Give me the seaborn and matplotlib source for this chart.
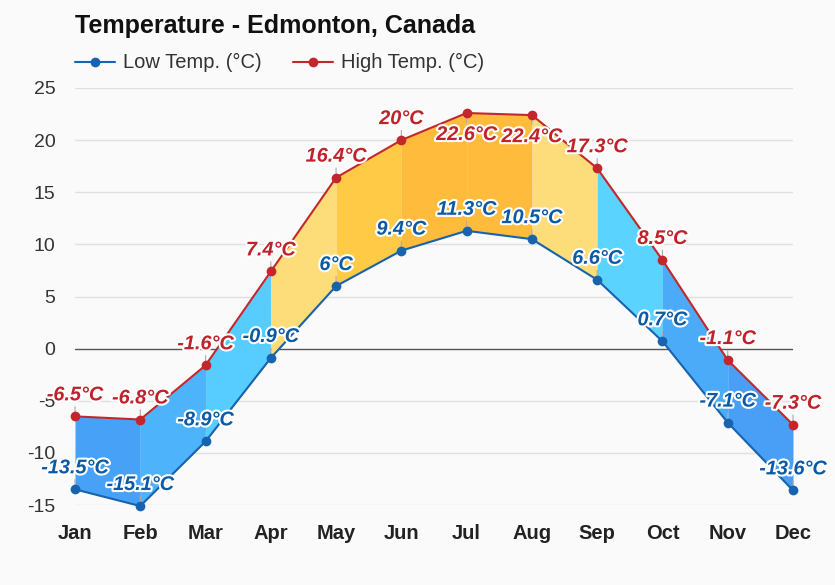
import numpy as np
import pandas as pd
import matplotlib
matplotlib.use("Agg")
import matplotlib.pyplot as plt
import matplotlib.patheffects as pe
from matplotlib.lines import Line2D
import seaborn as sns

months = ["Jan", "Feb", "Mar", "Apr", "May", "Jun", "Jul", "Aug", "Sep", "Oct", "Nov", "Dec"]
low_temp = [-13.5, -15.1, -8.9, -0.9, 6.0, 9.4, 11.3, 10.5, 6.6, 0.7, -7.1, -13.6]
high_temp = [-6.5, -6.8, -1.6, 7.4, 16.4, 20.0, 22.6, 22.4, 17.3, 8.5, -1.1, -7.3]
# fill colour of each month-to-month band
band_colors = ["#47a2f7", "#4db3fa", "#57cdff", "#fddc7a", "#ffcb47", "#ffbb3b",
               "#ffbb3b", "#fddc7a", "#5ad4ff", "#4cabf8", "#489ff5"]

LOW_COLOR = "#1763ad"
HIGH_COLOR = "#c3272b"
LOW_TEXT = "#0b5aa6"
HIGH_TEXT = "#c0222a"
BG = "#fafafa"

df = pd.DataFrame({"month": months, "x": range(len(months)),
                   "low": low_temp, "high": high_temp})

sns.set_style("white")
plt.rcParams["font.family"] = ["Liberation Sans", "DejaVu Sans"]
plt.rcParams["axes.unicode_minus"] = False

W, H = 835, 585
fig = plt.figure(figsize=(W / 100, H / 100), dpi=100, facecolor=BG)
ax = fig.add_axes([75 / W, 1 - 505 / H, (793 - 75) / W, (505 - 88) / H], facecolor=BG)

# gridlines
for v in range(-15, 30, 5):
    if v == 0:
        ax.axhline(v, color="#555555", lw=1.0, zorder=1)
    else:
        ax.axhline(v, color="#e0e0e0", lw=1.0, zorder=0)

# coloured bands between low and high
x = df["x"].to_numpy()
for i in range(len(x) - 1):
    ax.fill_between(x[i:i + 2], df["low"].iloc[i:i + 2], df["high"].iloc[i:i + 2],
                    color=band_colors[i], lw=0, zorder=2)

sns.lineplot(data=df, x="x", y="low", color=LOW_COLOR, lw=1.5, marker="o",
             markersize=7, markeredgewidth=0, ax=ax, zorder=4, clip_on=False)
sns.lineplot(data=df, x="x", y="high", color=HIGH_COLOR, lw=1.5, marker="o",
             markersize=7, markeredgewidth=0, ax=ax, zorder=4, clip_on=False)

def fmt(v):
    return f"{v:g}°C"

stroke = [pe.withStroke(linewidth=3, foreground="white")]
for xi, lo, hi in zip(x, low_temp, high_temp):
    for val, col in ((lo, LOW_TEXT), (hi, HIGH_TEXT)):
        # labels near the top edge go below the point
        sign = -1 if val > 22 else 1
        ax.annotate("", xy=(xi, val), xytext=(0, 9 * sign), textcoords="offset points",
                    arrowprops=dict(arrowstyle="-", color="#aaaaaa", lw=0.8),
                    zorder=3, annotation_clip=False)
        ax.annotate(fmt(val), xy=(xi, val), xytext=(0, 15.5 * sign), textcoords="offset points",
                    ha="center", va="center", fontsize=14.3, fontweight="bold",
                    fontstyle="italic", color=col, path_effects=stroke,
                    zorder=5, annotation_clip=False)

ax.set_xlim(0, 11)
ax.set_ylim(-15, 25)
ax.set_yticks(range(-15, 30, 5))
ax.set_xticks(x)
ax.set_xticklabels(months, fontsize=14.5, fontweight="bold", color="#222222")
ax.tick_params(axis="x", length=0, pad=14)
ax.tick_params(axis="y", length=0, pad=14, labelsize=14, labelcolor="#333333")
ax.set_xlabel("")
ax.set_ylabel("")
for s in ax.spines.values():
    s.set_visible(False)

fig.text(75 / W, 1 - 26 / H, "Temperature - Edmonton, Canada", fontsize=18,
         fontweight="bold", color="#111111", ha="left", va="center")

# legend
leg_y = 1 - 62 / H
for x0, col, label in ((75, LOW_COLOR, "Low Temp. (°C)"), (293, HIGH_COLOR, "High Temp. (°C)")):
    fig.add_artist(Line2D([x0 / W, (x0 + 40) / W], [leg_y, leg_y], color=col, lw=1.5,
                          transform=fig.transFigure))
    fig.add_artist(Line2D([(x0 + 20) / W], [leg_y], color=col, marker="o", markersize=7,
                          markeredgewidth=0, transform=fig.transFigure))
    fig.text((x0 + 48) / W, leg_y, label, fontsize=14.5, color="#333333",
             ha="left", va="center")

fig.savefig("out.png", dpi=100, facecolor=BG)
